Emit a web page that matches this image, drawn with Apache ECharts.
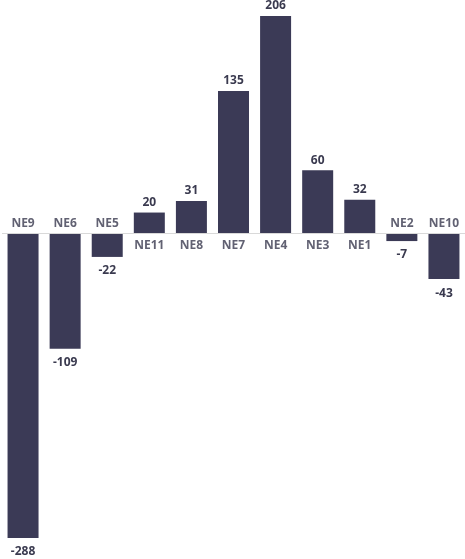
<!DOCTYPE html>
<html>
<head>
<meta charset="utf-8">
<script src="https://cdn.jsdelivr.net/npm/echarts@6/dist/echarts.min.js"></script>
<style>html,body{margin:0;padding:0;background:#fff}#c{width:465px;height:559px}</style>
</head>
<body>
<div id="c"></div>
<script>
const categories = ['NE9','NE6','NE5','NE11','NE8','NE7','NE4','NE3','NE1','NE2','NE10'];
const values = [-288,-109,-22,20,31,135,206,60,32,-7,-43];

const barColor = '#3b3a56';
const textColor = '#3a3a4f';
const font = '"Open Sans", sans-serif';

const chart = echarts.init(document.getElementById('c'));
chart.setOption({
  animation: false,
  grid: { left: 2, width: 466, top: 16, bottom: 21, containLabel: false },
  xAxis: {
    type: 'category', data: categories,
    axisLine: { show: false }, axisTick: { show: false }, axisLabel: { show: false }
  },
  yAxis: {
    type: 'value', min: -288, max: 206,
    splitLine: { show: false }, axisLabel: { show: false },
    axisLine: { show: false }, axisTick: { show: false }
  },
  series: [
    {
      type: 'bar',
      data: values.map(v => ({
        value: v,
        label: { position: v < 0 ? 'bottom' : 'top', distance: v < 0 ? 8 : 4 }
      })),
      barWidth: 31,
      itemStyle: { color: barColor },
      label: {
        show: true,
        fontFamily: font, fontWeight: 'bold', fontSize: 12, color: textColor
      },
      markLine: {
        silent: true, symbol: 'none',
        label: { show: false },
        lineStyle: { color: '#d9d9d9', type: 'solid', width: 1 },
        data: [{ yAxis: 0 }]
      }
    },
    {
      type: 'scatter',
      symbolSize: 0,
      data: categories.map((c, i) => ({
        value: [c, 0],
        label: { position: values[i] < 0 ? 'top' : 'bottom', distance: values[i] < 0 ? 4 : 6 }
      })),
      label: {
        show: true,
        formatter: p => p.value[0],
        fontFamily: font, fontWeight: 'bold', fontSize: 12, color: textColor
      },
      z: 5
    }
  ]
});
</script>
</body>
</html>
